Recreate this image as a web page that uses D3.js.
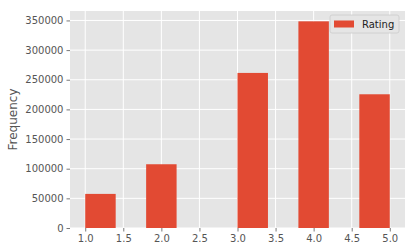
<!DOCTYPE html>
<html lang="en">
<head>
<meta charset="UTF-8">
<title>Rating histogram</title>
<style>
  body { margin: 0; background: #fff; }
  svg { display: block; font-family: "DejaVu Sans", sans-serif; }
</style>
</head>
<body>
<main></main>
<script src="https://cdn.jsdelivr.net/npm/d3@7/dist/d3.min.js"></script>
<script>
// histogram bins (left edge, right edge) and counts
var binStarts = [1.0, 1.4, 1.8, 2.2, 2.6, 3.0, 3.4, 3.8, 4.2, 4.6];
var binEnds = [1.4, 1.8, 2.2, 2.6, 3.0, 3.4, 3.8, 4.2, 4.6, 5.0];
var counts = [57500, 0, 107500, 0, 0, 261500, 0, 348500, 0, 225500];
var xTicks = [1.0, 1.5, 2.0, 2.5, 3.0, 3.5, 4.0, 4.5, 5.0];
var yTicks = [0, 50000, 100000, 150000, 200000, 250000, 300000, 350000];
var seriesName = 'Rating';

// plot box (window.top is reserved, so use other names)
var plotLeft = 70, plotRight = 405, plotTop = 11, plotBottom = 228;

var svg = d3.select('main').append('svg')
    .attr('width', 414)
    .attr('height', 252);

var x = d3.scaleLinear().domain([0.8, 5.2]).range([plotLeft, plotRight]);
var y = d3.scaleLinear().domain([0, 365925]).range([plotBottom, plotTop]);

svg.append('rect')
    .attr('x', plotLeft).attr('y', plotTop)
    .attr('width', plotRight - plotLeft).attr('height', plotBottom - plotTop)
    .attr('fill', '#e5e5e5');

// grid
svg.selectAll('.gx').data(xTicks).enter().append('line')
    .attr('x1', d => x(d)).attr('x2', d => x(d))
    .attr('y1', plotTop).attr('y2', plotBottom)
    .attr('stroke', '#fff').attr('stroke-width', 1);
svg.selectAll('.gy').data(yTicks).enter().append('line')
    .attr('x1', plotLeft).attr('x2', plotRight)
    .attr('y1', d => y(d)).attr('y2', d => y(d))
    .attr('stroke', '#fff').attr('stroke-width', 1);

// bars
var bins = binStarts.map((s, i) => ({ x0: s, x1: binEnds[i], n: counts[i] }));
svg.selectAll('.bar').data(bins.filter(d => d.n > 0)).enter().append('rect')
    .attr('x', d => x(d.x0))
    .attr('width', d => x(d.x1) - x(d.x0))
    .attr('y', d => y(d.n))
    .attr('height', d => y(0) - y(d.n))
    .attr('fill', '#e24a33');

// axes
var xAxis = svg.append('g')
    .attr('transform', `translate(0, ${plotBottom})`)
    .call(d3.axisBottom(x).tickValues(xTicks).tickFormat(d3.format('.1f')).tickSize(3.5).tickPadding(3));
var yAxis = svg.append('g')
    .attr('transform', `translate(${plotLeft}, 0)`)
    .call(d3.axisLeft(y).tickValues(yTicks).tickFormat(d => d).tickSize(3.5).tickPadding(3));

[xAxis, yAxis].forEach(function (a) {
    a.select('.domain').remove();
    a.selectAll('line').attr('stroke', '#555').attr('stroke-width', 0.8);
    a.selectAll('text').attr('fill', '#555').style('font-size', '10px')
        .style('font-family', '"DejaVu Sans", sans-serif');
});

svg.append('text')
    .attr('transform', `translate(17, ${(plotTop + plotBottom) / 2}) rotate(-90)`)
    .attr('text-anchor', 'middle')
    .attr('fill', '#555')
    .style('font-size', '12px')
    .text('Frequency');

// legend
var legend = svg.append('g').attr('transform', 'translate(330, 15)');
legend.append('rect')
    .attr('width', 69).attr('height', 18).attr('rx', 2)
    .attr('fill', '#e5e5e5').attr('stroke', '#cccccc').attr('stroke-width', 0.8);
legend.append('rect')
    .attr('x', 4).attr('y', 5.5).attr('width', 20).attr('height', 7)
    .attr('fill', '#e24a33');
legend.append('text')
    .attr('x', 32).attr('y', 13)
    .attr('fill', '#222')
    .style('font-size', '10px')
    .text(seriesName);
</script>
</body>
</html>
